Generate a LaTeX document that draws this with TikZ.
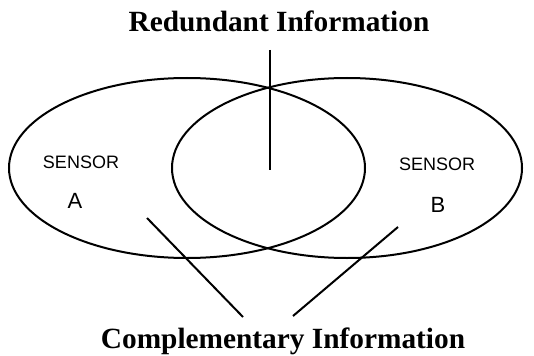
\documentclass[tikz,border=0pt]{standalone}
\usepackage{fontspec}
\setmainfont{Liberation Serif}
\newfontfamily\sensorfont{Liberation Sans}

\begin{document}
\begin{tikzpicture}[x=0.75pt,y=-0.75pt,line width=1.5pt,
  heading/.style={font=\bfseries\fontsize{22}{24}\selectfont,anchor=base},
  sensorlabel/.style={font=\sensorfont\fontsize{13.5}{15}\selectfont,anchor=base},
  sensorletter/.style={font=\sensorfont\fontsize{16.5}{18}\selectfont,anchor=base}]
  \useasboundingbox (0,0) rectangle (534,356);

  % the two sensor fields
  \draw (187,168) ellipse [x radius=178,y radius=90];
  \draw (347,168) ellipse [x radius=175,y radius=90];

  \node[sensorlabel] (sensA) at (81,168) {SENSOR};
  \node[sensorletter] (letA) at (75,208) {A};
  \node[sensorlabel] (sensB) at (437,170) {SENSOR};
  \node[sensorletter] (letB) at (438,212) {B};

  % labels and pointers
  \node[heading] (redund) at (279,32) {Redundant Information};
  \node[heading] (compl) at (283,348) {Complementary Information};

  \coordinate (redTop) at (270,50);
  \coordinate (redEnd) at (270,170);
  \coordinate (leftEnd) at (147,218);
  \coordinate (leftFoot) at (243,317);
  \coordinate (rightEnd) at (398,227);
  \coordinate (rightFoot) at (293,316);

  \draw (redTop) -- (redEnd);
  \draw (leftFoot) -- (leftEnd);
  \draw (rightFoot) -- (rightEnd);
\end{tikzpicture}
\end{document}
